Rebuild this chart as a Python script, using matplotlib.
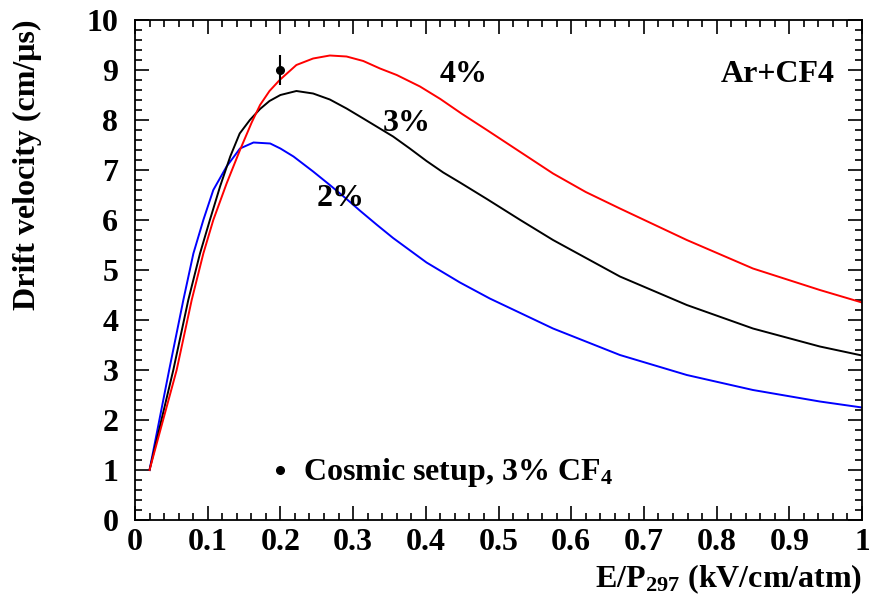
import numpy as np
import matplotlib
matplotlib.use("Agg")
import matplotlib.pyplot as plt
from matplotlib.ticker import MultipleLocator

plt.rcParams['font.family'] = ['Liberation Serif', 'DejaVu Serif']
plt.rcParams['font.weight'] = 'bold'
plt.rcParams['mathtext.fontset'] = 'custom'
plt.rcParams['mathtext.rm'] = 'Liberation Serif:bold'
plt.rcParams['mathtext.bf'] = 'Liberation Serif:bold'
plt.rcParams['mathtext.it'] = 'Liberation Serif:bold:italic'

# 2% CF4
x_2 = [0.02, 0.047, 0.0665, 0.0803, 0.094, 0.1077, 0.126, 0.1444, 0.163, 0.186,
       0.2, 0.218, 0.245, 0.268, 0.291, 0.31, 0.333, 0.355, 0.401, 0.447, 0.488,
       0.575, 0.667, 0.759, 0.85, 0.942, 1.0]
v_2 = [1.0, 3.0, 4.4, 5.33, 6.0, 6.6, 7.07, 7.43, 7.55, 7.53,
       7.43, 7.27, 6.97, 6.7, 6.42, 6.18, 5.9, 5.64, 5.15, 4.75, 4.43,
       3.83, 3.3, 2.9, 2.6, 2.37, 2.25]
# 3% CF4
x_3 = [0.02, 0.0527, 0.0733, 0.0894, 0.103, 0.117, 0.131, 0.144, 0.158, 0.172,
       0.185, 0.2, 0.222, 0.245, 0.268, 0.291, 0.314, 0.355, 0.378, 0.401, 0.424,
       0.447, 0.484, 0.53, 0.575, 0.667, 0.759, 0.85, 0.942, 1.0]
v_3 = [1.0, 3.0, 4.4, 5.33, 6.0, 6.67, 7.27, 7.73, 8.0, 8.22,
       8.38, 8.5, 8.58, 8.53, 8.41, 8.23, 8.03, 7.67, 7.43, 7.18, 6.95,
       6.75, 6.42, 6.0, 5.6, 4.87, 4.3, 3.83, 3.47, 3.29]
# 4% CF4
x_4 = [0.02, 0.0573, 0.078, 0.094, 0.1077, 0.126, 0.1444, 0.1605, 0.172, 0.185,
       0.199, 0.222, 0.245, 0.268, 0.291, 0.314, 0.337, 0.36, 0.392, 0.42, 0.45,
       0.484, 0.53, 0.575, 0.62, 0.667, 0.759, 0.85, 0.942, 1.0]
v_4 = [1.0, 3.0, 4.4, 5.33, 6.0, 6.73, 7.4, 7.95, 8.3, 8.58,
       8.8, 9.1, 9.23, 9.29, 9.27, 9.18, 9.03, 8.9, 8.67, 8.42, 8.12,
       7.8, 7.36, 6.93, 6.56, 6.23, 5.6, 5.03, 4.6, 4.35]

# cosmic setup measurement
cosmic_x = [0.2]
cosmic_v = [9.0]
cosmic_err = [0.3]

x_ticks = [0, 0.1, 0.2, 0.3, 0.4, 0.5, 0.6, 0.7, 0.8, 0.9, 1.0]
x_ticklabels = ["0", "0.1", "0.2", "0.3", "0.4", "0.5", "0.6", "0.7", "0.8", "0.9", "1"]
y_ticks = list(range(0, 11))

fs = 23

fig = plt.figure(figsize=(8.69, 6.13), dpi=100)
ax = fig.add_axes([135/869, 1-520/613, 727/869, 500/613])

ax.plot(x_2, v_2, color='blue', lw=1.4)
ax.plot(x_3, v_3, color='black', lw=1.4)
ax.plot(x_4, v_4, color='red', lw=1.4)
ax.errorbar(cosmic_x, cosmic_v, yerr=cosmic_err, fmt='o', color='black',
            ms=5.5, elinewidth=1.5, capsize=0)

ax.set_xlim(0, 1)
ax.set_ylim(0, 10)
ax.set_xticks(x_ticks)
ax.set_xticklabels(x_ticklabels)
ax.set_yticks(y_ticks)
ax.xaxis.set_minor_locator(MultipleLocator(0.02))
ax.yaxis.set_minor_locator(MultipleLocator(0.2))
ax.tick_params(which='both', direction='in', top=True, right=True, width=1.2)
ax.tick_params(axis='x', which='major', length=10, labelsize=fs, pad=6)
ax.tick_params(axis='x', which='minor', length=5)
ax.tick_params(axis='y', which='major', length=10, labelsize=fs, pad=12)
ax.tick_params(axis='y', which='minor', length=5)
for lab in ax.get_xticklabels() + ax.get_yticklabels():
    lab.set_fontweight('bold')
for sp in ax.spines.values():
    sp.set_linewidth(1.3)

ax.text(0.4195, 8.75, "4%", fontsize=fs, ha='left', va='baseline')
ax.text(0.341, 7.77, "3%", fontsize=fs, ha='left', va='baseline')
ax.text(0.25, 6.27, "2%", fontsize=fs, ha='left', va='baseline')
ax.text(0.963, 8.75, "Ar+CF4", fontsize=fs, ha='right', va='baseline')
ax.plot([0.2], [1.0], 'o', color='black', ms=5.5)
ax.text(0.2315, 0.8, "Cosmic setup, 3% CF$_{4}$", fontsize=fs, ha='left', va='baseline')

fig.text(27/869, 1-20/613, "Drift velocity (cm/\u03bcs)", rotation=90,
         fontsize=fs, ha='center', va='top')
fig.text(862/869, 1-587/613, "E/P$_{297}$ (kV/cm/atm)", fontsize=fs,
         ha='right', va='baseline')

fig.savefig("out.png", dpi=100)
